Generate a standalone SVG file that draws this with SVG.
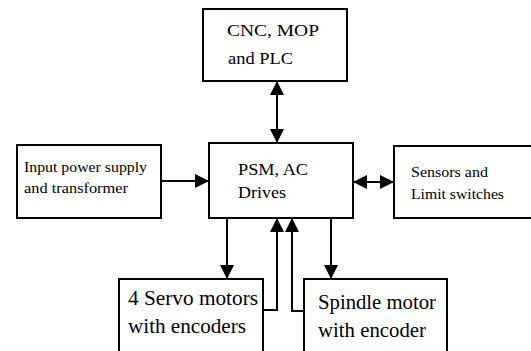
<svg xmlns="http://www.w3.org/2000/svg" width="531" height="351" viewBox="0 0 531 351">
<style>
.box{fill:#fff;stroke:#000;stroke-width:2}
.t{font-family:'Liberation Serif','Times New Roman',serif;fill:#000}
.s{font-size:14.5px}
.m{font-size:17px}
.l{font-size:20px}
.c{fill:none;stroke:#000;stroke-width:2}
</style>
<defs>
<marker id="ah" markerUnits="userSpaceOnUse" markerWidth="14" markerHeight="14" refX="14" refY="7" orient="auto-start-reverse" viewBox="0 0 14 14">
<path d="M0,0 L14,7 L0,14 Z" fill="#000"/>
</marker>
</defs>
<rect width="531" height="351" fill="#fff"/>
<g id="cnc">
<rect class="box" x="203" y="9" width="144" height="72"/>
<text class="t m" x="227" y="36" textLength="92" lengthAdjust="spacingAndGlyphs">CNC, MOP</text>
<text class="t m" x="228" y="64" textLength="65" lengthAdjust="spacingAndGlyphs">and PLC</text>
</g>
<g id="input">
<rect class="box" x="17" y="145" width="144" height="73"/>
<text class="t s" x="24" y="172" textLength="123" lengthAdjust="spacingAndGlyphs">Input power supply</text>
<text class="t s" x="24" y="193" textLength="104" lengthAdjust="spacingAndGlyphs">and transformer</text>
</g>
<g id="psm">
<rect class="box" x="209" y="143" width="144" height="75"/>
<text class="t m" x="238" y="175" textLength="70" lengthAdjust="spacingAndGlyphs">PSM, AC</text>
<text class="t m" x="238" y="198" textLength="48" lengthAdjust="spacingAndGlyphs">Drives</text>
</g>
<g id="sensors">
<rect class="box" x="394" y="146" width="140" height="72"/>
<text class="t s" x="411" y="177" textLength="77" lengthAdjust="spacingAndGlyphs">Sensors and</text>
<text class="t s" x="411" y="199" textLength="93" lengthAdjust="spacingAndGlyphs">Limit switches</text>
</g>
<g id="servo">
<rect class="box" x="119" y="279" width="144" height="80"/>
<text class="t l" x="128" y="305" textLength="130" lengthAdjust="spacingAndGlyphs">4 Servo motors</text>
<text class="t l" x="128" y="333" textLength="118" lengthAdjust="spacingAndGlyphs">with encoders</text>
</g>
<g id="spindle">
<rect class="box" x="304" y="279" width="143" height="80"/>
<text class="t l" x="318" y="309" textLength="118" lengthAdjust="spacingAndGlyphs">Spindle motor</text>
<text class="t l" x="318" y="337" textLength="108" lengthAdjust="spacingAndGlyphs">with encoder</text>
</g>
<g id="connectors">
<line class="c" x1="277" y1="81" x2="277" y2="143" marker-start="url(#ah)" marker-end="url(#ah)"/>
<line class="c" x1="161" y1="181" x2="209" y2="181" marker-end="url(#ah)"/>
<line class="c" x1="353" y1="182" x2="394" y2="182" marker-start="url(#ah)" marker-end="url(#ah)"/>
<line class="c" x1="227" y1="218" x2="227" y2="279" marker-end="url(#ah)"/>
<line class="c" x1="331" y1="218" x2="331" y2="279" marker-end="url(#ah)"/>
<polyline class="c" points="263,310 277,310 277,218" marker-end="url(#ah)"/>
<polyline class="c" points="304,311 292,311 292,218" marker-end="url(#ah)"/>
</g>
</svg>
